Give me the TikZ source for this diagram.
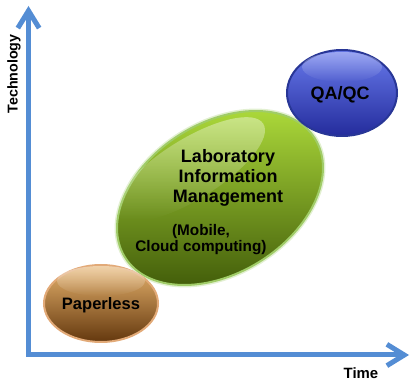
\documentclass[tikz,border=0pt]{standalone}
\usepackage{fontspec}
\setmainfont{Liberation Sans}
\usetikzlibrary{arrows.meta,fadings}

\definecolor{axisblue}{RGB}{84,141,212}
\definecolor{paperhi}{RGB}{232,180,110}
\definecolor{papermid}{RGB}{214,146,56}
\definecolor{paperlo}{RGB}{100,56,14}
\definecolor{paperrim}{RGB}{226,170,120}
\definecolor{limshi}{RGB}{176,222,60}
\definecolor{limsmid}{RGB}{136,190,26}
\definecolor{limslo}{RGB}{62,88,8}
\definecolor{limsrim}{RGB}{160,204,104}
\definecolor{qahi}{RGB}{104,122,236}
\definecolor{qamid}{RGB}{62,80,220}
\definecolor{qalo}{RGB}{36,44,156}
\definecolor{qarim}{RGB}{40,54,150}

\tikzfading[name=gloss, top color=transparent!30, bottom color=transparent!100]

\begin{document}
\begin{tikzpicture}[x=0.75pt,y=0.75pt,
  axis/.style={axisblue,line width=3.75pt,line join=miter,
    {Straight Barb[length=13pt,width=16pt]}-{Straight Barb[length=13pt,width=16pt]}},
  lbl/.style={font=\bfseries,align=center,inner sep=0pt},
  shine/.style={white,path fading=gloss}]
  \useasboundingbox (0,0) rectangle (410,381);

  \coordinate (ytop) at (28.5,375);
  \coordinate (origin) at (28.5,26);
  \coordinate (xend) at (409,26);
  \draw[axis] (ytop) -- (origin) -- (xend);
  \node[lbl,rotate=90,font=\bfseries\fontsize{10.7}{12}\selectfont] (tech) at (14,307) {Technology};
  \node[lbl,font=\bfseries\fontsize{11.2}{13}\selectfont] (time) at (361,8) {Time};

  % laboratory information management
  \begin{scope}[shift={(220,183)},rotate=32]
    \fill[limsrim,opacity=.3] (0,0) ellipse (114.5 and 77.5);
    \shade[top color=limshi,middle color=limsmid,bottom color=limslo,draw=limsrim,line width=1.5pt]
      (0,0) ellipse (112 and 75);
    \fill[shine,opacity=.55] (-10,40) ellipse (86 and 30);
  \end{scope}
  \node[lbl,font=\bfseries\fontsize{13.5}{15}\selectfont] (lims) at (228,203)
    {Laboratory\\Information\\Management};
  \node[lbl,font=\bfseries\fontsize{11.5}{12}\selectfont] (mobile) at (201,141)
    {(Mobile,\\Cloud computing)};

  % paperless
  \shade[top color=paperhi,middle color=papermid,bottom color=paperlo,draw=paperrim,line width=1.5pt]
    (101,77.5) ellipse (57 and 38.5);
  \fill[shine,opacity=.6] (101,100) ellipse (44 and 15);
  \node[lbl,font=\bfseries\fontsize{12.4}{14}\selectfont] (paper) at (101,76) {Paperless};

  % qa/qc
  \shade[top color=qahi,middle color=qamid,bottom color=qalo,draw=qarim,line width=1.5pt]
    (342,288) ellipse (55 and 43);
  \fill[shine,opacity=.5] (342,314) ellipse (40 and 15);
  \node[lbl,font=\bfseries\fontsize{13.5}{15}\selectfont] (qaqc) at (340,286) {QA/QC};
\end{tikzpicture}
\end{document}
